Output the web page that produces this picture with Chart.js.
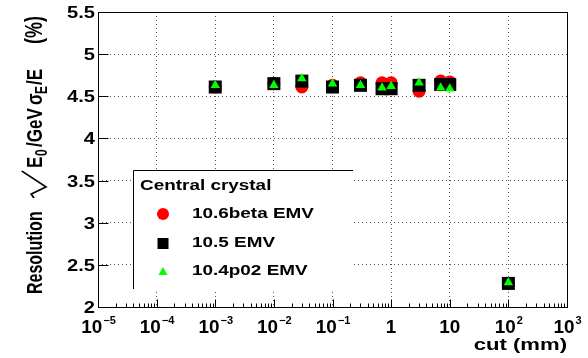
<!DOCTYPE html>
<html>
<head>
<meta charset="utf-8">
<script src="https://cdn.jsdelivr.net/npm/chart.js@4.4.0/dist/chart.umd.min.js"></script>
<style>
  html, body { margin: 0; padding: 0; background: #fff; }
</style>
</head>
<body>
<canvas id="ResChart" width="588" height="358"></canvas>
<script>
// cut values (mm) and resolution (%) per release
const cuts = [0.001, 0.01, 0.03, 0.1, 0.3, 0.7, 1, 3, 7, 10, 100];
const res_106beta = [4.61, 4.65, 4.61, 4.63, 4.66, 4.66, 4.66, 4.56, 4.68, 4.67, 2.28];
const res_105 = [4.61, 4.65, 4.68, 4.61, 4.63, 4.59, 4.59, 4.63, 4.64, 4.64, 2.28];
const res_104p02 = [4.63, 4.63, 4.71, 4.65, 4.63, 4.60, 4.62, 4.66, 4.60, 4.59, 2.29];

const decades = [-5, -4, -3, -2, -1, 0, 1, 2, 3];
const y_ticks = [2, 2.5, 3, 3.5, 4, 4.5, 5, 5.5];
const legend_title = 'Central crystal';
const series_names = ['10.6beta EMV', '10.5 EMV', '10.4p02 EMV'];
const x_title = 'cut (mm)';

const FONT = '"Liberation Sans", Arial, Helvetica, sans-serif';

function pts(vals) {
    return cuts.map((c, i) => ({ x: c, y: vals[i] }));
}

// bold text, stretched sideways by sx
function txt(ctx, s, x, y, size, sx, align) {
    ctx.save();
    ctx.font = 'bold ' + size + 'px ' + FONT;
    const w = ctx.measureText(s).width * sx;
    let x0 = x;
    if (align === 'right') x0 = x - w;
    if (align === 'center') x0 = x - w / 2;
    ctx.translate(x0, y);
    ctx.scale(sx, 1);
    ctx.textAlign = 'left';
    ctx.textBaseline = 'alphabetic';
    ctx.fillStyle = '#000';
    ctx.fillText(s, 0, 0);
    ctx.restore();
    return w;
}

function textWidth(ctx, s, size) {
    ctx.save();
    ctx.font = 'bold ' + size + 'px ' + FONT;
    const w = ctx.measureText(s).width;
    ctx.restore();
    return w;
}

const frame = {
    id: 'frame',
    afterDraw(chart) {
        const { ctx, chartArea: a, scales: { x, y } } = chart;
        ctx.save();
        ctx.strokeStyle = '#000';
        ctx.lineWidth = 1;

        // box
        const L = Math.round(a.left) + 0.5, R = Math.round(a.right) + 0.5;
        const T = Math.round(a.top) + 0.5, B = Math.round(a.bottom) + 0.5;
        ctx.strokeRect(L, T, R - L, B - T);

        // log ticks on x
        ctx.beginPath();
        for (let d of decades) {
            for (let k = 1; k <= 9; k++) {
                const v = k * Math.pow(10, d);
                if (v > 1000) break;
                const px = Math.round(x.getPixelForValue(v)) + 0.5;
                const len = k === 1 ? 8 : 4;
                ctx.moveTo(px, B);
                ctx.lineTo(px, B - len);
            }
        }
        // ticks on y
        for (let v of y_ticks) {
            const py = Math.round(y.getPixelForValue(v)) + 0.5;
            ctx.moveTo(L, py);
            ctx.lineTo(L + 10, py);
        }
        ctx.stroke();

        // y labels
        for (let v of y_ticks) {
            const py = y.getPixelForValue(v);
            txt(ctx, String(v), 95, py + 6, 16.5, 1.22, 'right');
        }

        // x labels, 10 with exponent
        for (let d of decades) {
            const px = x.getPixelForValue(Math.pow(10, d));
            if (d === 0 || d === 1) {
                txt(ctx, d === 0 ? '1' : '10', px, 333, 17.5, 1.08, 'center');
                continue;
            }
            const base = textWidth(ctx, '10', 17.5) * 1.08;
            const exp = d < 0 ? '\u2212' + (-d) : String(d);
            const sup = textWidth(ctx, exp, 10.5) * 1.05;
            const x0 = px - (base + sup) / 2;
            txt(ctx, '10', x0, 333, 17.5, 1.08, 'left');
            txt(ctx, exp, x0 + base + 1, 324, 10.5, 1.05, 'left');
        }

        // x title
        txt(ctx, x_title, 567, 350, 17, 1.3, 'right');

        // y title, rotated; pieces placed along the axis
        ctx.save();
        ctx.translate(42, 294);
        ctx.scale(1.35, 1);
        ctx.rotate(-Math.PI / 2);
        txt(ctx, 'Resolution', 0, 0, 16, 1, 'left');
        // radical sign
        ctx.beginPath();
        ctx.lineWidth = 1.5;
        ctx.moveTo(96, -6);
        ctx.lineTo(100, -8);
        ctx.lineTo(107, 3);
        ctx.lineTo(123, -15);
        ctx.stroke();
        txt(ctx, 'E', 126, 0, 17, 1, 'left');
        txt(ctx, '0', 138, 4, 12, 1, 'left');
        txt(ctx, '/GeV', 147, 0, 17, 1, 'left');
        txt(ctx, '\u03c3', 189, 0, 17, 1, 'left');
        txt(ctx, 'E', 200, 4, 12, 1, 'left');
        txt(ctx, '/E', 209, 0, 17, 1, 'left');
        txt(ctx, '(%)', 250, 0, 18, 1, 'left');
        ctx.restore();

        // legend box
        ctx.fillStyle = '#fff';
        ctx.fillRect(133, 170, 220, 119);
        ctx.beginPath();
        ctx.lineWidth = 1;
        ctx.moveTo(133.5, 289);
        ctx.lineTo(133.5, 170.5);
        ctx.lineTo(353, 170.5);
        ctx.stroke();
        txt(ctx, legend_title, 140, 190, 15.5, 1.22, 'left');

        // legend markers
        ctx.fillStyle = '#ff0000';
        ctx.beginPath();
        ctx.arc(163, 214, 6, 0, Math.PI * 2);
        ctx.fill();
        ctx.fillStyle = '#000';
        ctx.fillRect(157.5, 238, 11, 11);
        ctx.fillStyle = '#00ff00';
        ctx.beginPath();
        ctx.moveTo(163, 267);
        ctx.lineTo(167.5, 275);
        ctx.lineTo(158.5, 275);
        ctx.closePath();
        ctx.fill();

        txt(ctx, series_names[0], 192, 218, 15.5, 1.22, 'left');
        txt(ctx, series_names[1], 192, 247, 15.5, 1.22, 'left');
        txt(ctx, series_names[2], 192, 275, 15.5, 1.22, 'left');

        ctx.restore();
    }
};

const grid_opts = { color: '#555', lineWidth: 1, drawTicks: false };
const border_opts = { display: false, dash: [1, 3] };

new Chart(document.getElementById('ResChart'), {
    type: 'scatter',
    data: {
        datasets: [
            {
                label: series_names[2],
                data: pts(res_104p02),
                pointStyle: 'triangle',
                pointRadius: 5.5,
                backgroundColor: '#00ff00',
                borderWidth: 0,
                order: 1
            },
            {
                label: series_names[1],
                data: pts(res_105),
                pointStyle: 'rect',
                pointRadius: 9.2,
                backgroundColor: '#000000',
                borderWidth: 0,
                order: 2
            },
            {
                label: series_names[0],
                data: pts(res_106beta),
                pointStyle: 'circle',
                pointRadius: 6.5,
                backgroundColor: '#ff0000',
                borderWidth: 0,
                order: 3
            }
        ]
    },
    options: {
        responsive: false,
        animation: false,
        devicePixelRatio: 1,
        layout: { padding: { left: 98, right: 21, top: 12, bottom: 51 } },
        plugins: { legend: { display: false }, tooltip: { enabled: false } },
        scales: {
            x: {
                type: 'logarithmic',
                min: 1e-5,
                max: 1e3,
                afterBuildTicks: s => { s.ticks = decades.map(d => ({ value: Math.pow(10, d) })); },
                ticks: { display: false },
                grid: grid_opts,
                border: border_opts
            },
            y: {
                type: 'linear',
                min: 2,
                max: 5.5,
                afterBuildTicks: s => { s.ticks = y_ticks.map(v => ({ value: v })); },
                ticks: { display: false },
                grid: grid_opts,
                border: border_opts
            }
        }
    },
    plugins: [frame]
});
</script>
</body>
</html>
